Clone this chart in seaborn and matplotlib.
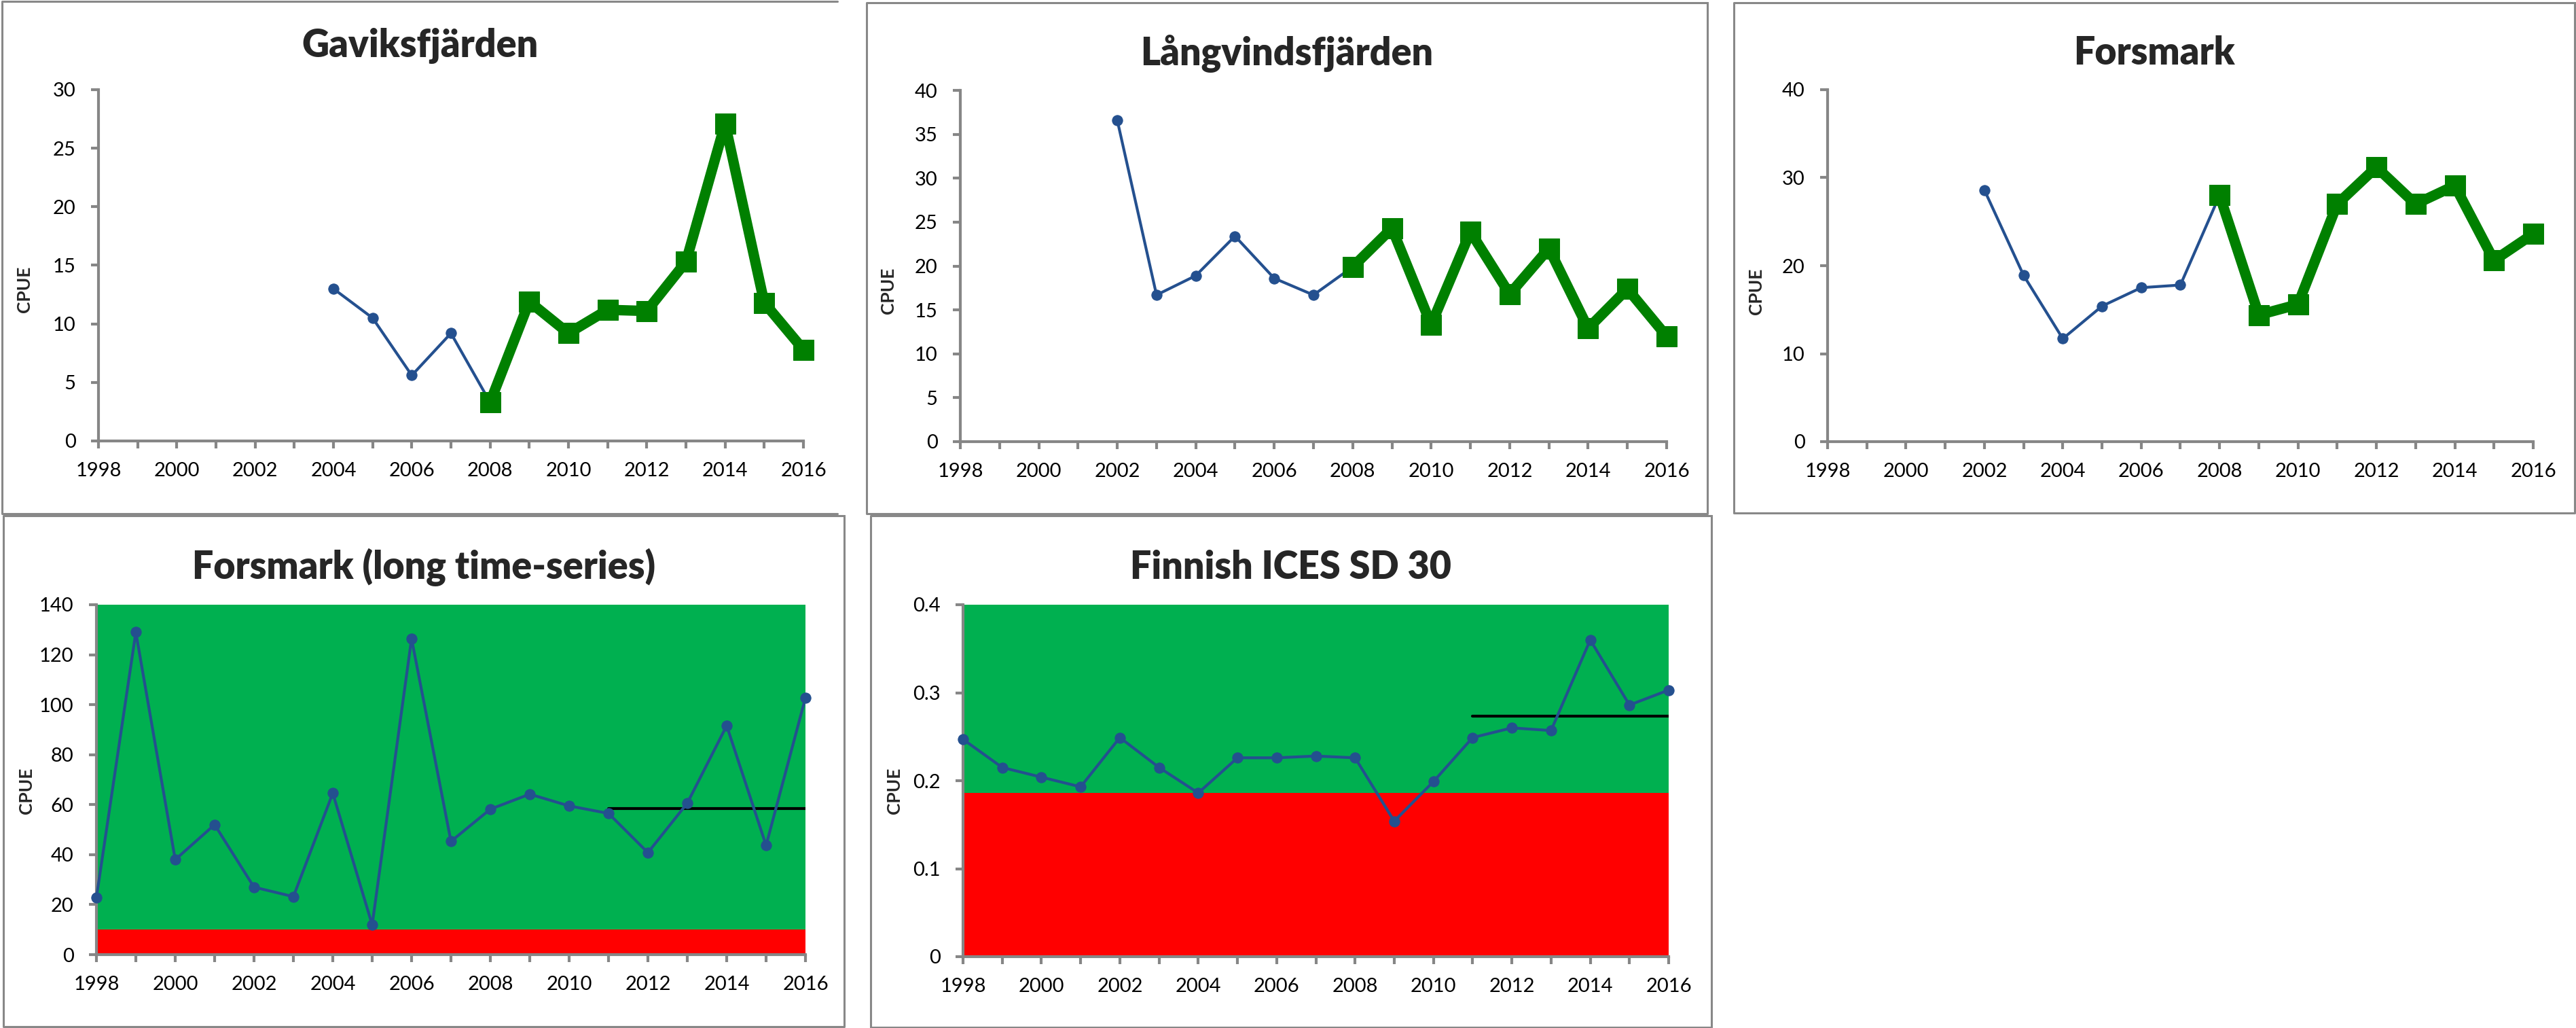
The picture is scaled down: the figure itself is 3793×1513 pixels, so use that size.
import matplotlib
matplotlib.use("Agg")
import matplotlib.pyplot as plt
from matplotlib.lines import Line2D
from matplotlib.ticker import MultipleLocator
import seaborn as sns

# data
gav_years_old = [2004, 2005, 2006, 2007, 2008]
gav_cpue_old = [13.0, 10.5, 5.6, 9.2, 3.3]
gav_years_new = [2008, 2009, 2010, 2011, 2012, 2013, 2014, 2015, 2016]
gav_cpue_new = [3.3, 11.9, 9.2, 11.2, 11.1, 15.3, 27.1, 11.8, 7.8]

lang_years_old = [2002, 2003, 2004, 2005, 2006, 2007, 2008]
lang_cpue_old = [36.6, 16.7, 18.9, 23.4, 18.6, 16.7, 19.9]
lang_years_new = [2008, 2009, 2010, 2011, 2012, 2013, 2014, 2015, 2016]
lang_cpue_new = [19.9, 24.3, 13.3, 23.9, 16.8, 22.0, 12.9, 17.4, 12.0]

fors_years_old = [2002, 2003, 2004, 2005, 2006, 2007, 2008]
fors_cpue_old = [28.6, 18.9, 11.7, 15.4, 17.5, 17.8, 28.0]
fors_years_new = [2008, 2009, 2010, 2011, 2012, 2013, 2014, 2015, 2016]
fors_cpue_new = [28.0, 14.4, 15.6, 27.0, 31.2, 27.0, 29.1, 20.6, 23.6]

long_years = list(range(1998, 2017))
fors_long_cpue = [22.9, 129.0, 38.0, 52.0, 27.0, 23.2, 64.6, 11.9, 126.4, 45.3,
                  58.2, 64.2, 59.5, 56.5, 40.8, 60.6, 91.6, 43.7, 102.8]
fors_long_ref_years = [2011, 2016]
fors_long_ref = 58.5
fors_long_limit = 10

finn_cpue = [0.247, 0.215, 0.204, 0.193, 0.249, 0.215, 0.186, 0.226, 0.226, 0.228,
             0.226, 0.154, 0.199, 0.249, 0.260, 0.257, 0.360, 0.286, 0.303]
finn_ref_years = [2011, 2016]
finn_ref = 0.273
finn_limit = 0.186

finn_yticks = [0, 0.1, 0.2, 0.3, 0.4]
finn_ylabels = ["0", "0.1", "0.2", "0.3", "0.4"]

BLUE = "#24508F"
GREEN = "#008000"
BG_GREEN = "#00B050"
BG_RED = "#FF0000"
GREY = "#868686"

sns.set_style("white")
plt.rcParams['font.family'] = ['Lato', 'DejaVu Sans']

W, H = 3793, 1513
fig = plt.figure(figsize=(W / 100, H / 100), dpi=100)


def add_ax(left, right, top, bottom, ymax, ystep):
    ax = fig.add_axes([left / W, 1 - bottom / H, (right - left) / W, (bottom - top) / H])
    ax.set_xlim(1998, 2016)
    ax.set_ylim(0, ymax)
    ax.xaxis.set_major_locator(MultipleLocator(2))
    ax.xaxis.set_minor_locator(MultipleLocator(1))
    ax.yaxis.set_major_locator(MultipleLocator(ystep))
    for s in ["top", "right"]:
        ax.spines[s].set_visible(False)
    for s in ["left", "bottom"]:
        ax.spines[s].set_color(GREY)
        ax.spines[s].set_linewidth(3)
    ax.tick_params(axis="both", which="both", direction="out", length=8, width=3,
                   color=GREY, labelsize=21, labelcolor="black")
    ax.tick_params(axis="x", which="both", bottom=True, pad=14)
    ax.tick_params(axis="y", which="both", left=True, pad=16)
    ax.set_xlabel("")
    ax.set_ylabel("")
    ax.grid(False)
    return ax


def old_series(ax, x, y):
    sns.lineplot(x=x, y=y, ax=ax, color=BLUE, linewidth=3, marker="o",
                 markersize=11, markeredgecolor=BLUE, clip_on=False, zorder=3)


def new_series(ax, x, y):
    sns.lineplot(x=x, y=y, ax=ax, color=GREEN, linewidth=11, marker="s",
                 markersize=22, markeredgecolor=GREEN, clip_on=False, zorder=4)


def panel_box(x0, x1, y0, y1, right=True):
    xs = [x1, x0, x0, x1] if not right else [x1, x0, x0, x1, x1]
    ys = [y0, y0, y1, y1] if not right else [y0, y0, y1, y1, y0]
    fig.add_artist(Line2D([x / W for x in xs], [1 - y / H for y in ys],
                          color="#888888", linewidth=2.2))


def labels(title, tx, ty, cx, cy):
    fig.text(tx / W, 1 - ty / H, title, ha="center", va="center",
             fontsize=40, fontweight="heavy")
    fig.text(cx / W, 1 - cy / H, "CPUE", ha="center", va="center", rotation=90,
             fontsize=19, fontweight="bold")


# Gaviksfjärden
panel_box(3, 1233, 2, 756, right=False)
ax1 = add_ax(145, 1183, 132, 649, 30, 5)
old_series(ax1, gav_years_old, gav_cpue_old)
new_series(ax1, gav_years_new, gav_cpue_new)
labels("Gaviksfjärden", 618, 67, 36, 426)

# Långvindsfjärden
panel_box(1276, 2514, 4, 756)
ax2 = add_ax(1414, 2454, 133, 650, 40, 5)
old_series(ax2, lang_years_old, lang_cpue_old)
new_series(ax2, lang_years_new, lang_cpue_new)
labels("Långvindsfjärden", 1895, 79, 1308, 428)

# Forsmark
panel_box(2553, 3791, 4, 755)
ax3 = add_ax(2691, 3730, 132, 650, 40, 10)
old_series(ax3, fors_years_old, fors_cpue_old)
new_series(ax3, fors_years_new, fors_cpue_new)
labels("Forsmark", 3172, 78, 2586, 429)

# Forsmark (long time-series)
panel_box(5, 1243, 759, 1511)
ax4 = add_ax(142, 1186, 890, 1405, 140, 20)
ax4.axhspan(0, fors_long_limit, color=BG_RED, zorder=0, linewidth=0)
ax4.axhspan(fors_long_limit, 140, color=BG_GREEN, zorder=0, linewidth=0)
old_series(ax4, long_years, fors_long_cpue)
sns.lineplot(x=fors_long_ref_years, y=[fors_long_ref] * 2, ax=ax4, color="black",
             linewidth=3, zorder=2)
labels("Forsmark (long time-series)", 624, 835, 39, 1164)

# Finnish ICES SD 30
panel_box(1282, 2520, 759, 1512)
ax5 = add_ax(1418, 2457, 890, 1408, 0.4, 0.1)
ax5.axhspan(0, finn_limit, color=BG_RED, zorder=0, linewidth=0)
ax5.axhspan(finn_limit, 0.4, color=BG_GREEN, zorder=0, linewidth=0)
old_series(ax5, long_years, finn_cpue)
sns.lineplot(x=finn_ref_years, y=[finn_ref] * 2, ax=ax5, color="black",
             linewidth=3, zorder=2)
ax5.set_yticks(finn_yticks)
ax5.set_yticklabels(finn_ylabels)
labels("Finnish ICES SD 30", 1901, 835, 1317, 1164)

for ax in [ax1, ax2, ax3, ax4, ax5]:
    ax.set_xlim(1998, 2016)
    leg = ax.get_legend()
    if leg:
        leg.remove()

fig.savefig("out.png", dpi=100)
